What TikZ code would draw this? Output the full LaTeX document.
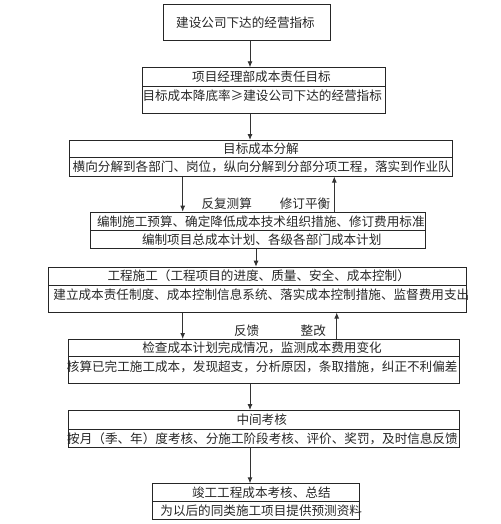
\documentclass[tikz,border=0pt]{standalone}
\usepackage{fontspec}
\setmainfont{Noto Sans CJK SC}
\usetikzlibrary{arrows.meta}
\begin{document}
\begin{tikzpicture}[x=1pt,y=-1pt,
  box/.style={draw=black!85,line width=0.8pt,inner sep=0pt,anchor=north west},
  divline/.style={draw=black!85,line width=0.8pt},
  txt/.style={inner sep=0pt,font=\fontsize{12.6}{14}\selectfont,text=black!85},
  arr/.style={draw=black!80,line width=0.9pt,-{Latex[length=6pt,width=5pt]}}]
\useasboundingbox (0,0) rectangle (500,524);
% boxes
\node[box,minimum width=167pt,minimum height=35.7pt] (b1) at (162.7,4.3) {};
\node[box,minimum width=242.7pt,minimum height=46pt] (b2) at (142.3,67.3) {};
\node[box,minimum width=383.3pt,minimum height=35.7pt] (b3) at (69,140) {};
\node[box,minimum width=335pt,minimum height=36pt] (b4) at (90,211.7) {};
\node[box,minimum width=417.4pt,minimum height=45pt] (b5) at (48.3,266.7) {};
\node[box,minimum width=390.7pt,minimum height=44.3pt] (b6) at (68.3,339) {};
\node[box,minimum width=390.7pt,minimum height=36.7pt] (b7) at (68.3,410) {};
\node[box,minimum width=207pt,minimum height=36pt] (b8) at (152.3,483.3) {};
% dividers
\coordinate (d2) at (0,86.7);
\coordinate (d3) at (0,157.3);
\coordinate (d4) at (0,230.7);
\coordinate (d5) at (0,285);
\coordinate (d6) at (0,356);
\coordinate (d7) at (0,429.3);
\coordinate (d8) at (0,501.7);
\draw[divline] (b2.west |- d2) -- (b2.east |- d2);
\draw[divline] (b3.west |- d3) -- (b3.east |- d3);
\draw[divline] (b4.west |- d4) -- (b4.east |- d4);
\draw[divline] (b5.west |- d5) -- (b5.east |- d5);
\draw[divline] (b6.west |- d6) -- (b6.east |- d6);
\draw[divline] (b7.west |- d7) -- (b7.east |- d7);
\draw[divline] (b8.west |- d8) -- (b8.east |- d8);
% texts
\node[txt] (t1) at (245.5,23) {建设公司下达的经营指标};
\node[txt] (t2a) at (261.5,77) {项目经理部成本责任目标};
\node[txt] (t2b) at (262.2,96) {目标成本降底率≥建设公司下达的经营指标};
\node[txt] (t3a) at (261,149) {目标成本分解};
\node[txt] (t3b) at (261.7,167) {横向分解到各部门、岗位，纵向分解到分部分项工程，落实到作业队};
\node[txt] (t4a) at (260.8,221.7) {编制施工预算、确定降低成本技术组织措施、修订费用标准};
\node[txt] (t4b) at (261.7,240) {编制项目总成本计划、各级各部门成本计划};
\node[txt] (t5a) at (258.7,276) {工程施工（工程项目的进度、质量、安全、成本控制）};
\node[txt] (t5b) at (261.3,295) {建立成本责任制度、成本控制信息系统、落实成本控制措施、监督费用支出};
\node[txt] (t6a) at (262,348.3) {检查成本计划完成情况，监测成本费用变化};
\node[txt] (t6b) at (262.2,366.7) {核算已完工施工成本，发现超支，分析原因，条取措施，纠正不利偏差};
\node[txt] (t7a) at (261.7,420) {中间考核};
\node[txt] (t7b) at (262.5,439) {按月（季、年）度考核、分施工阶段考核、评价、奖罚，及时信息反馈};
\node[txt] (t8a) at (261.3,493) {竣工工程成本考核、总结};
\node[txt] (t8b) at (261.2,511) {为以后的同类施工项目提供预测资料};
% labels
\node[txt] (l1) at (226.7,203.3) {反复测算};
\node[txt] (l2) at (305,203.3) {修订平衡};
\node[txt] (l3) at (246.7,330.7) {反馈};
\node[txt] (l4) at (313.3,330.7) {整改};
% arrow x positions
\coordinate (xa) at (250,0);
\coordinate (xb) at (182.7,0);
\coordinate (xc) at (334.3,0);
\coordinate (xd) at (256,0);
\coordinate (xe) at (336.7,0);
\draw[arr] (b1.south -| xa) -- (b2.north -| xa);
\draw[arr] (b2.south -| xa) -- (b3.north -| xa);
\draw[arr] (b3.south -| xb) -- (b4.north -| xb);
\draw[arr] (b4.north -| xc) -- (b3.south -| xc);
\draw[arr] (b4.south -| xd) -- (b5.north -| xd);
\draw[arr] (b5.south -| xb) -- (b6.north -| xb);
\draw[arr] (b6.north -| xe) -- (b5.south -| xe);
\draw[arr] (b6.south -| xa) -- (b7.north -| xa);
\draw[arr] (b7.south -| xa) -- (b8.north -| xa);
\end{tikzpicture}
\end{document}
